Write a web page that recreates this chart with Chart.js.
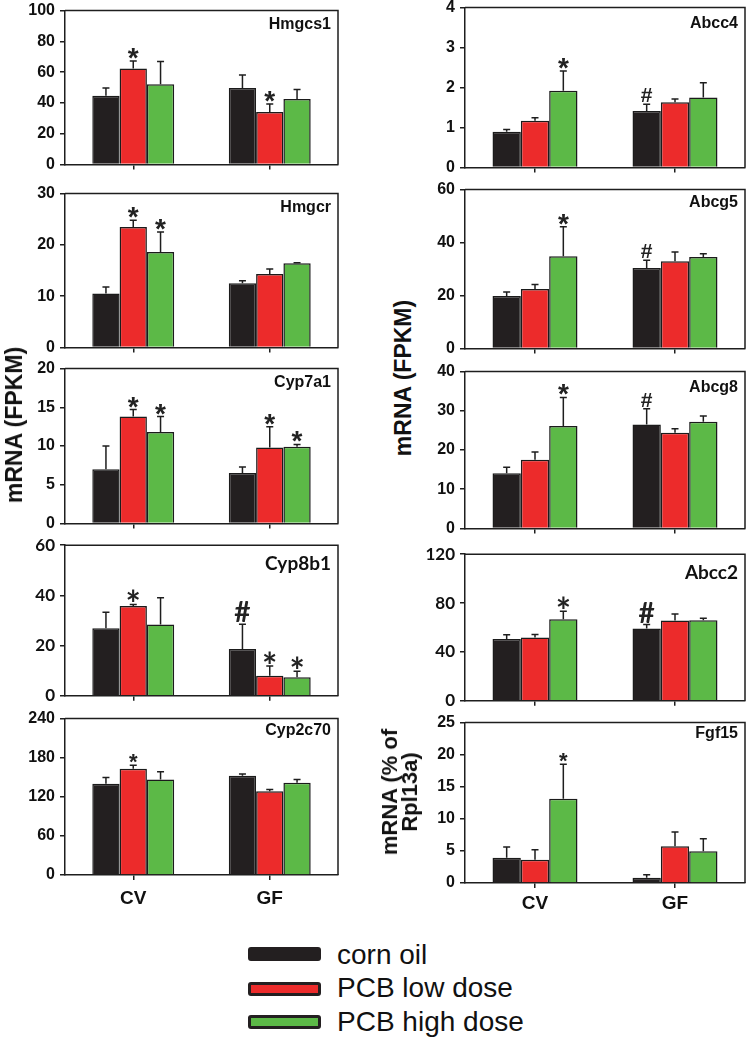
<!DOCTYPE html>
<html>
<head>
<meta charset="utf-8">
<script src="https://cdn.jsdelivr.net/npm/chart.js@4.4.1/dist/chart.umd.min.js"></script>
<style>
  html, body { margin:0; padding:0; background:#fff; }
  body { width:747px; height:1040px; position:relative; overflow:hidden; font-family:"Liberation Sans", Arial, sans-serif; }
  canvas { position:absolute; }
  .ytitle { position:absolute; font-weight:bold; white-space:nowrap; color:#111; text-align:center;
            transform:translate(-50%,-50%) rotate(-90deg); }
  .sw { position:absolute; box-sizing:border-box; border-radius:3px; border:3px solid #231f20; }
  .lt { position:absolute; font-size:28px; color:#111; white-space:nowrap; transform:translateY(-50%); line-height:1; }
</style>
</head>
<body>
<script>
// ---------------- DATA ----------------
const categories = ['CV', 'GF'];
const seriesNames = ['corn oil', 'PCB low dose', 'PCB high dose'];
const seriesColors = ['#231f20', '#ec2b2b', '#5cb947'];

// values per series: [CV, GF]
const hmgcs1Mean = [[44.6, 49.6], [62.3, 34.1], [52.1, 42.5]];
const hmgcs1Err  = [[5.0, 8.6], [4.9, 5.2], [14.8, 6.2]];
const hmgcs1Sig  = [['', ''], ['*', '*'], ['', '']];

const hmgcrMean = [[10.5, 12.5], [23.5, 14.3], [18.6, 16.4]];
const hmgcrErr  = [[1.3, 0.5], [1.3, 1.0], [3.9, 0.1]];
const hmgcrSig  = [['', ''], ['*', ''], ['*', '']];

const cyp7a1Mean = [[7.0, 6.5], [13.8, 9.8], [11.8, 9.9]];
const cyp7a1Err  = [[3.0, 0.8], [0.9, 2.7], [2.0, 0.3]];
const cyp7a1Sig  = [['', ''], ['*', '*'], ['*', '*']];

const cyp8b1Mean = [[26.9, 18.6], [35.8, 8.0], [28.4, 7.4]];
const cyp8b1Err  = [[6.4, 9.9], [0.6, 3.9], [10.7, 2.4]];
const cyp8b1Sig  = [['', '#'], ['*', '*'], ['', '*']];

const cyp2c70Mean = [[140.0, 152.2], [163.0, 128.7], [146.6, 141.5]];
const cyp2c70Err  = [[9.6, 2.6], [5.5, 2.6], [11.7, 5.1]];
const cyp2c70Sig  = [['', ''], ['*', ''], ['', '']];

const abcc4Mean = [[0.89, 1.41], [1.17, 1.63], [1.92, 1.75]];
const abcc4Err  = [[0.06, 0.17], [0.07, 0.08], [0.49, 0.37]];
const abcc4Sig  = [['', '#'], ['', ''], ['*', '']];

const abcg5Mean = [[19.8, 30.4], [22.4, 32.9], [34.8, 34.5]];
const abcg5Err  = [[1.5, 2.9], [1.7, 3.5], [11.2, 1.3]];
const abcg5Sig  = [['', '#'], ['', ''], ['*', '']];

const abcg8Mean = [[14.1, 26.5], [17.5, 24.4], [26.1, 27.2]];
const abcg8Err  = [[1.5, 4.0], [2.0, 1.0], [7.3, 1.5]];
const abcg8Sig  = [['', '#'], ['', ''], ['*', '']];

const abcc2Mean = [[50.6, 59.2], [51.9, 65.8], [66.8, 66.0]];
const abcc2Err  = [[3.4, 3.2], [2.3, 5.2], [6.6, 1.6]];
const abcc2Sig  = [['', '#'], ['', ''], ['*', '']];

const fgf15Mean = [[3.95, 0.83], [3.64, 5.72], [13.15, 4.94]];
const fgf15Err  = [[1.65, 0.47], [1.56, 2.23], [5.35, 1.96]];
const fgf15Sig  = [['', ''], ['', ''], ['*', '']];

// axis tick settings (max, step)
const yMaxes = {Hmgcs1:100, Hmgcr:30, Cyp7a1:20, Cyp8b1:60, Cyp2c70:240, Abcc4:4, Abcg5:60, Abcg8:40, Abcc2:120, Fgf15:25};
const ySteps = {Hmgcs1:20, Hmgcr:10, Cyp7a1:5, Cyp8b1:20, Cyp2c70:60, Abcc4:1, Abcg5:20, Abcg8:10, Abcc2:40, Fgf15:5};

// ---------------- LAYOUT ----------------
const AX = '#1e1e1e';
const COLS = [
  {canvasLeft:0,   yw:65, areaRight:338, catPct:0.60,  xPad:7},
  {canvasLeft:420, yw:45, areaRight:745, catPct:0.607, xPad:4}
];
const ARIAL = 'Liberation Sans', CALIBRI = 'Lato';
const panels = [
  {name:'Hmgcs1',  mean:hmgcs1Mean,  err:hmgcs1Err,  sig:hmgcs1Sig,  col:0, top:10,  bottom:169, font:ARIAL,   tick:16, title:16, tdy:14, star:28, hash:21},
  {name:'Hmgcr',   mean:hmgcrMean,   err:hmgcrErr,   sig:hmgcrSig,   col:0, top:193, bottom:352, font:ARIAL,   tick:16, title:16, tdy:14, star:28, hash:21},
  {name:'Cyp7a1',  mean:cyp7a1Mean,  err:cyp7a1Err,  sig:cyp7a1Sig,  col:0, top:368, bottom:528, font:ARIAL,   tick:16, title:16, tdy:14, star:28, hash:21},
  {name:'Cyp8b1',  mean:cyp8b1Mean,  err:cyp8b1Err,  sig:cyp8b1Sig,  col:0, top:544, bottom:701, font:CALIBRI, tick:17, title:19, tdy:19, star:36, hash:28},
  {name:'Cyp2c70', mean:cyp2c70Mean, err:cyp2c70Err, sig:cyp2c70Sig, col:0, top:718, bottom:875, font:ARIAL,   tick:16, title:16, tdy:12, star:22, hash:21, xLabels:true},
  {name:'Abcc4',   mean:abcc4Mean,   err:abcc4Err,   sig:abcc4Sig,   col:1, top:7,   bottom:172, font:ARIAL,   tick:16, title:16, tdy:16, star:28, hash:21},
  {name:'Abcg5',   mean:abcg5Mean,   err:abcg5Err,   sig:abcg5Sig,   col:1, top:189, bottom:353, font:ARIAL,   tick:16, title:16, tdy:13, star:28, hash:21},
  {name:'Abcg8',   mean:abcg8Mean,   err:abcg8Err,   sig:abcg8Sig,   col:1, top:371, bottom:533, font:ARIAL,   tick:16, title:16, tdy:16, star:28, hash:21},
  {name:'Abcc2',   mean:abcc2Mean,   err:abcc2Err,   sig:abcc2Sig,   col:1, top:553, bottom:706, font:CALIBRI, tick:17, title:19, tdy:19, star:36, hash:28},
  {name:'Fgf15',   mean:fgf15Mean,   err:fgf15Err,   sig:fgf15Sig,   col:1, top:722, bottom:883, font:ARIAL,   tick:16, title:16, tdy:11, star:22, hash:21, xLabels:true}
];

const panelPlugin = {
  id: 'panelDeco',
  afterDatasetsDraw(chart) {
    const p = chart.canvas._panel;
    const ctx = chart.ctx, ys = chart.scales.y;
    ctx.save();
    chart.data.datasets.forEach((ds, i) => {
      const meta = chart.getDatasetMeta(i);
      meta.data.forEach((bar, j) => {
        const v = ds.data[j], e = ds.errors[j];
        const yTop = ys.getPixelForValue(v + e);
        ctx.strokeStyle = AX; ctx.lineWidth = 1.5;
        ctx.beginPath();
        ctx.moveTo(bar.x, bar.y); ctx.lineTo(bar.x, yTop);
        ctx.moveTo(bar.x - 3.5, yTop); ctx.lineTo(bar.x + 3.5, yTop);
        ctx.stroke();
        const m = ds.marks[j];
        if (m) {
          const size = m === '#' ? p.hash : p.star;
          ctx.font = `bold ${size}px "${p.font}"`;
          ctx.textAlign = 'center'; ctx.textBaseline = 'alphabetic';
          const mt = ctx.measureText(m);
          ctx.fillStyle = '#222';
          ctx.fillText(m, bar.x, yTop - 2 - mt.actualBoundingBoxDescent);
        }
      });
    });
    ctx.restore();
  },
  afterDraw(chart) {
    const p = chart.canvas._panel;
    const ctx = chart.ctx, a = chart.chartArea;
    ctx.save();
    ctx.strokeStyle = AX; ctx.lineWidth = 1.5;
    ctx.beginPath();
    ctx.moveTo(a.left, a.top); ctx.lineTo(a.right, a.top); ctx.lineTo(a.right, a.bottom);
    ctx.stroke();
    ctx.font = `bold ${p.title}px "${p.font}"`;
    ctx.fillStyle = '#111'; ctx.textAlign = 'right'; ctx.textBaseline = 'middle';
    ctx.fillText(p.name, a.right - 7, a.top + p.tdy);
    ctx.restore();
  }
};

function buildPanel(p) {
  const L = COLS[p.col];
  const padTop = 14, padRight = 3;
  const xh = p.xLabels ? 44 : 10;
  const W = L.areaRight + padRight - L.canvasLeft;
  const H = padTop + (p.bottom - p.top) + xh;
  const cv = document.createElement('canvas');
  cv.width = W; cv.height = H;
  cv.style.left = L.canvasLeft + 'px';
  cv.style.top = (p.top - padTop) + 'px';
  cv.style.width = W + 'px'; cv.style.height = H + 'px';
  cv._panel = p;
  document.body.appendChild(cv);
  new Chart(cv, {
    type: 'bar',
    data: {
      labels: categories,
      datasets: seriesNames.map((n, i) => ({
        label: n, data: p.mean[i], errors: p.err[i], marks: p.sig[i],
        backgroundColor: seriesColors[i], borderColor: '#1b1b1b', borderWidth: 1.5,
        barPercentage: 1, categoryPercentage: L.catPct
      }))
    },
    options: {
      responsive: false, animation: false, devicePixelRatio: 1, events: [],
      layout: {padding: {top: padTop, right: padRight, left: 0, bottom: 0}},
      plugins: {legend: {display: false}, tooltip: {enabled: false}},
      scales: {
        x: {
          type: 'category', offset: true,
          afterFit: s => { s.height = xh; },
          grid: {offset: false, drawOnChartArea: false, drawTicks: true, tickLength: 5, color: AX, lineWidth: 1.5},
          border: {display: true, color: AX, width: 1.5},
          ticks: {display: !!p.xLabels, color: '#111', padding: L.xPad, maxRotation: 0,
                  font: {family: ARIAL, size: 19, weight: 'bold'}}
        },
        y: {
          min: 0, max: yMaxes[p.name],
          afterFit: s => { s.width = L.yw; },
          ticks: {stepSize: ySteps[p.name], color: '#111', padding: 5,
                  font: {family: p.font, size: p.tick, weight: 'bold'}},
          grid: {drawOnChartArea: false, drawTicks: true, tickLength: 5, color: AX, lineWidth: 1.5},
          border: {display: true, color: AX, width: 1.5}
        }
      }
    },
    plugins: [panelPlugin]
  });
}
panels.forEach(buildPanel);

// ---------------- Axis titles ----------------
function addTitle(html, cx, cy, size, lh) {
  const d = document.createElement('div');
  d.className = 'ytitle';
  d.innerHTML = html;
  d.style.left = cx + 'px'; d.style.top = cy + 'px';
  d.style.fontSize = size + 'px'; d.style.lineHeight = lh + 'px';
  document.body.appendChild(d);
}
addTitle('mRNA (FPKM)', 14, 425, 23, 26);
addTitle('mRNA (FPKM)', 403, 378, 23, 26);
addTitle('mRNA (% of<br>Rpl13a)', 400, 792, 22, 20);

// ---------------- Legend ----------------
const legendRows = [
  {swTop:947, swH:14, textY:955},
  {swTop:982, swH:14, textY:988},
  {swTop:1015, swH:14, textY:1022}
];
seriesNames.forEach((n, i) => {
  const r = legendRows[i];
  const s = document.createElement('div');
  s.className = 'sw';
  s.style.left = '248px'; s.style.top = r.swTop + 'px';
  s.style.width = '73px'; s.style.height = r.swH + 'px';
  s.style.background = seriesColors[i];
  document.body.appendChild(s);
  const t = document.createElement('div');
  t.className = 'lt';
  t.textContent = n;
  t.style.left = '337px'; t.style.top = r.textY + 'px';
  document.body.appendChild(t);
});
</script>
</body>
</html>
